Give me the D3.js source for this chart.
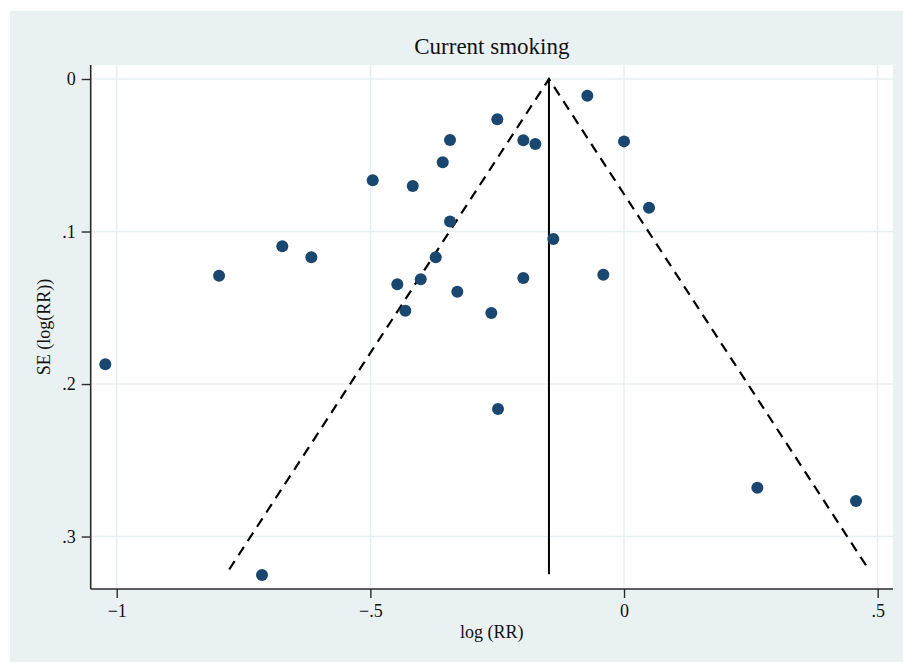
<!DOCTYPE html>
<html>
<head>
<meta charset="utf-8">
<script src="https://cdn.jsdelivr.net/npm/d3@7"></script>
<style>
  html, body { margin: 0; padding: 0; background: #ffffff; }
  svg { display: block; }
  text { font-family: "Liberation Serif", "Times New Roman", serif; fill: #111; }
</style>
</head>
<body>
<script>
// ---- data ----
const studyLogRR = [-1.0225, -0.7983, -0.6736, -0.6164, -0.7136, -0.4954, -0.4165, -0.4469, -0.4311, -0.4007,
                    -0.3712, -0.3430, -0.3574, -0.3430, -0.3286, -0.2616, -0.2498, -0.2484, -0.1985, -0.1748,
                    -0.1985, -0.1394, -0.0723, -0.0408, 0.0000, 0.0493, 0.2628, 0.4573];
const studySE    = [0.1871, 0.1290, 0.1097, 0.1169, 0.3252, 0.0664, 0.0702, 0.1346, 0.1519, 0.1313,
                    0.1169, 0.0934, 0.0546, 0.0400, 0.1395, 0.1534, 0.0264, 0.2164, 0.0402, 0.0426,
                    0.1305, 0.1049, 0.0110, 0.1283, 0.0409, 0.0844, 0.2680, 0.2767];
const pooledLogRR = -0.148;
const funnelMaxSE = 0.3216;
const pooledLineMaxSE = 0.3248;
const xTicks = [-1, -0.5, 0, 0.5];
const xTickLabels = ["\u22121", "\u2212.5", "0", ".5"];
const yTicks = [0, 0.1, 0.2, 0.3];
const yTickLabels = ["0", ".1", ".2", ".3"];
const titleText = "Current smoking";
const xLabel = "log (RR)";
const yLabel = "SE (log(RR))";

// ---- layout ----
const W = 903, H = 662;
const plot = { left: 90.7, right: 893, top: 65, bottom: 589 };

const svg = d3.select("body").append("svg").attr("width", W).attr("height", H);

svg.append("rect").attr("x", 10).attr("y", 11).attr("width", W - 10).attr("height", H - 11)
   .attr("fill", "#eaf1f3");
svg.append("rect").attr("x", plot.left).attr("y", plot.top)
   .attr("width", plot.right - plot.left).attr("height", plot.bottom - plot.top)
   .attr("fill", "#ffffff");

const x = d3.scaleLinear().domain([-1.0513, 0.5302]).range([plot.left, plot.right]);
const y = d3.scaleLinear().domain([-0.00918, 0.3344]).range([plot.top, plot.bottom]);

// grid
const grid = svg.append("g");
grid.selectAll("line.vx").data(xTicks).join("line")
  .attr("x1", d => x(d)).attr("x2", d => x(d))
  .attr("y1", plot.top).attr("y2", plot.bottom)
  .attr("stroke", "#e8eff2").attr("stroke-width", 1.5);
grid.selectAll("line.hy").data(yTicks).join("line")
  .attr("x1", plot.left).attr("x2", plot.right)
  .attr("y1", d => y(d)).attr("y2", d => y(d))
  .attr("stroke", "#e8eff2").attr("stroke-width", 1.5);

// axes
const xAxis = d3.axisBottom(x).tickValues(xTicks)
  .tickFormat((d, i) => xTickLabels[i]).tickSize(9).tickSizeOuter(0).tickPadding(6);
const gx = svg.append("g").attr("transform", `translate(0,${plot.bottom})`).call(xAxis);
const yAxis = d3.axisLeft(y).tickValues(yTicks)
  .tickFormat((d, i) => yTickLabels[i]).tickSize(9).tickSizeOuter(0).tickPadding(6);
const gy = svg.append("g").attr("transform", `translate(${plot.left},0)`).call(yAxis);

[gx, gy].forEach(g => {
  g.select(".domain").attr("stroke", "#2a2a2a").attr("stroke-width", 1.6);
  g.selectAll(".tick line").attr("stroke", "#2a2a2a").attr("stroke-width", 1.4);
  g.selectAll(".tick text").attr("font-size", 18)
    .attr("font-family", "Liberation Serif, Times New Roman, serif").attr("fill", "#111");
});
gx.select(".domain").attr("d", `M${plot.left},0H${plot.right}`);
gy.select(".domain").attr("d", `M0,${plot.top}V${plot.bottom}`);

// funnel
const funnel = [
  { lr: pooledLogRR - 1.96 * funnelMaxSE, se: funnelMaxSE },
  { lr: pooledLogRR, se: 0 },
  { lr: pooledLogRR + 1.96 * funnelMaxSE, se: funnelMaxSE }
];
svg.append("path")
  .attr("d", d3.line().x(d => x(d.lr)).y(d => y(d.se))(funnel))
  .attr("fill", "none").attr("stroke", "#000").attr("stroke-width", 2.2)
  .attr("stroke-dasharray", "10,7");
svg.append("line")
  .attr("x1", x(pooledLogRR)).attr("x2", x(pooledLogRR))
  .attr("y1", y(0)).attr("y2", y(pooledLineMaxSE))
  .attr("stroke", "#000").attr("stroke-width", 2);

// points
svg.append("g").selectAll("circle").data(studyLogRR).join("circle")
  .attr("cx", d => x(d)).attr("cy", (d, i) => y(studySE[i]))
  .attr("r", 6).attr("fill", "#1a476f");

// titles
svg.append("text").attr("x", (plot.left + plot.right) / 2).attr("y", 54)
  .attr("text-anchor", "middle").attr("font-size", 23).text(titleText);
svg.append("text").attr("x", (plot.left + plot.right) / 2).attr("y", 638)
  .attr("text-anchor", "middle").attr("font-size", 18).text(xLabel);
svg.append("text").attr("transform", `translate(50,${(plot.top + plot.bottom) / 2}) rotate(-90)`)
  .attr("text-anchor", "middle").attr("font-size", 18).text(yLabel);
</script>
</body>
</html>
